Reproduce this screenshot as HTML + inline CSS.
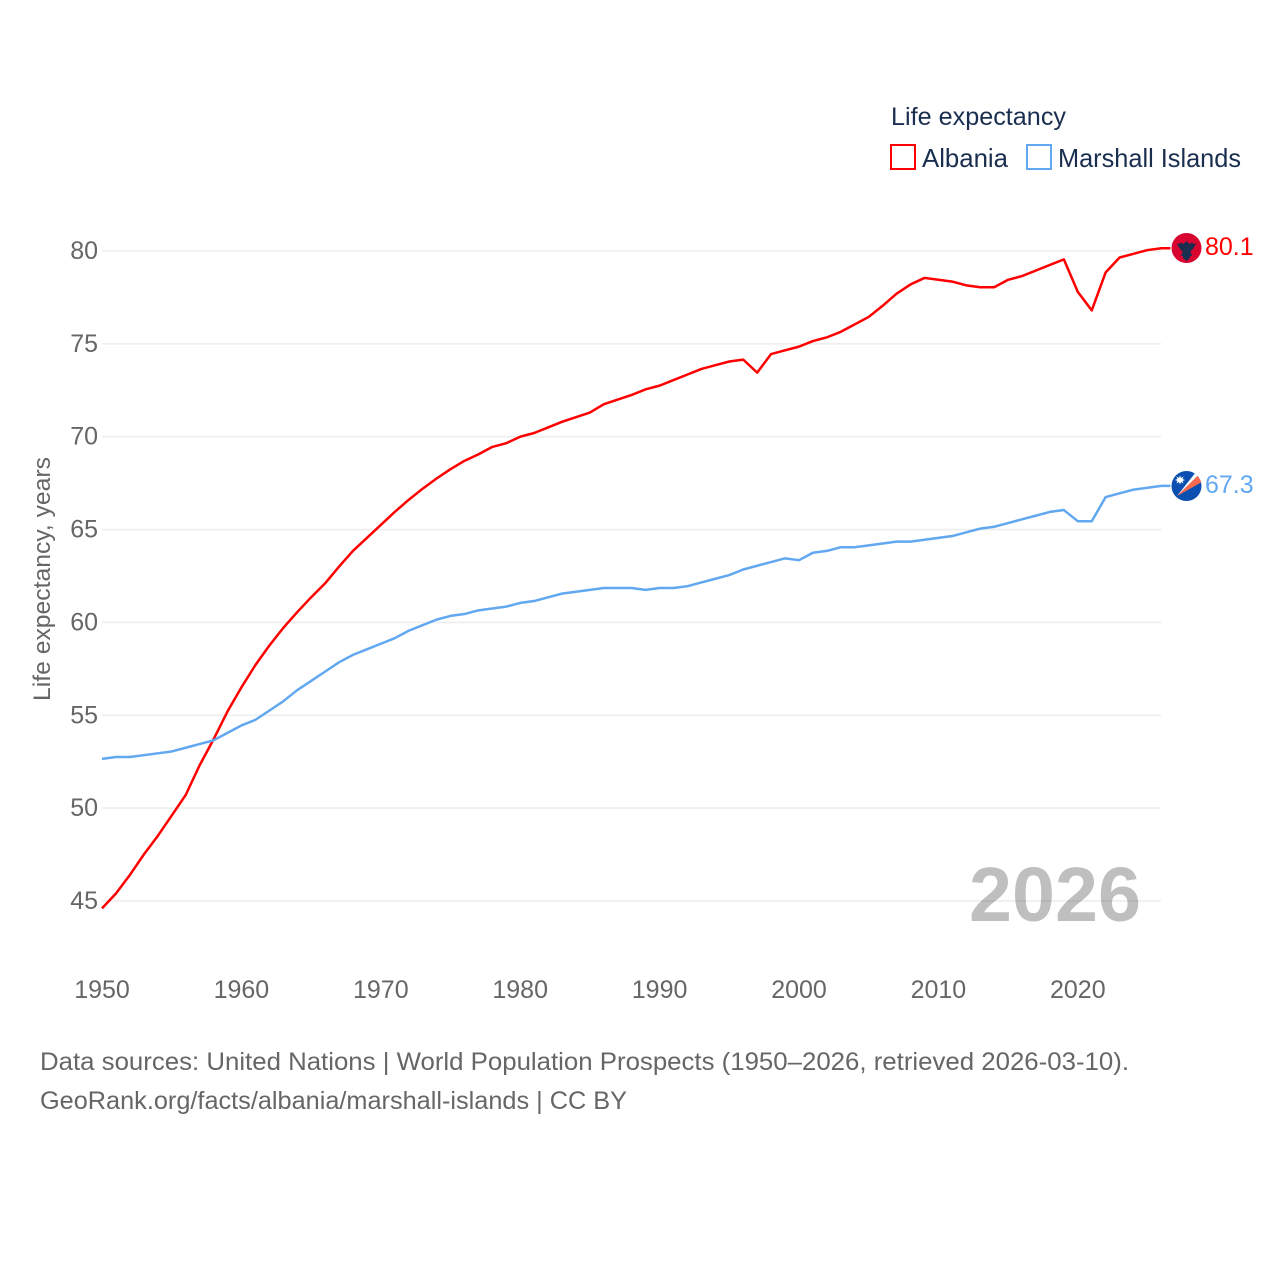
<!DOCTYPE html>
<html lang="en">
<head>
<meta charset="utf-8">
<title>Life expectancy: Albania and Marshall Islands</title>
<style>
html,body{margin:0;padding:0;background:#fff;width:1280px;height:1280px;overflow:hidden}
svg{display:block}
text{font-family:"Liberation Sans",sans-serif}
</style>
</head>
<body>
<svg id="chart" width="1280" height="1280" viewBox="0 0 1280 1280" xmlns="http://www.w3.org/2000/svg">
  <rect width="1280" height="1280" fill="#fff"/>
  <g id="grid"></g>
  <g id="yticks"></g>
  <g id="xticks"></g>
  <text transform="translate(50,701) rotate(-90)" font-size="24" fill="#666" textLength="244" lengthAdjust="spacingAndGlyphs">Life expectancy, years</text>
  <text x="969" y="921" font-size="77" font-weight="700" fill="#000" fill-opacity="0.25" textLength="172" lengthAdjust="spacingAndGlyphs">2026</text>
  <g id="series"></g>

  <g>
    <text x="891" y="125" font-size="25" fill="#1a2e4f" textLength="175" lengthAdjust="spacingAndGlyphs">Life expectancy</text>
    <g>
      <rect x="891" y="145" width="24" height="24" fill="none" stroke="#ff0000" stroke-width="2"/>
      <text x="922" y="167" font-size="26" fill="#1a2e4f" textLength="86" lengthAdjust="spacingAndGlyphs">Albania</text>
    </g>
    <g>
      <rect x="1027" y="145" width="24" height="24" fill="none" stroke="#62a8f0" stroke-width="2"/>
      <text x="1058" y="167" font-size="26" fill="#1a2e4f" textLength="183" lengthAdjust="spacingAndGlyphs">Marshall Islands</text>
    </g>
  </g>

  <g id="flag-albania">
    <circle cx="1186.5" cy="248" r="15" fill="#d80530"/>
    <polygon points="1186.5,241 1189.5,244 1191,243 1196,244 1193,249 1190,252 1191,253 1192,256 1190,256 1190,258 1186.5,261 1183,258 1183,256 1181,256 1182,253 1183,252 1180,249 1177,244 1182,243 1183.5,244" fill="#1a2e4f"/>
  </g>
  <g id="flag-marshall">
    <defs><clipPath id="mh-clip"><circle cx="1186.5" cy="486" r="15"/></clipPath></defs>
    <circle cx="1186.5" cy="486" r="15" fill="#0b50b0"/>
    <g clip-path="url(#mh-clip)">
      <polygon points="1177,496 1196,472 1198.5,475" fill="#fff"/>
      <polygon points="1177,496 1198.5,475 1202,482" fill="#f96a50"/>
    </g>
    <polygon points="1180,475.5 1181,478 1183.500,476.500 1182.500,479 1185,480 1182.500,481 1183.500,483.500 1181,482 1180,484.500 1179,482 1176.500,483.500 1177.500,481 1175,480 1177.500,479 1176.500,476.500 1179,478" fill="#fff"/>
  </g>
  <text x="1205" y="255" font-size="25" fill="#ff0000">80.1</text>
  <text x="1205" y="493" font-size="25" fill="#62a8f0">67.3</text>

  <g>
    <text x="40" y="1070" font-size="25" fill="#666" textLength="1089" lengthAdjust="spacingAndGlyphs">Data sources: United Nations | World Population Prospects (1950–2026, retrieved 2026-03-10).</text>
    <text x="40" y="1109" font-size="25" fill="#666" textLength="587" lengthAdjust="spacingAndGlyphs">GeoRank.org/facts/albania/marshall-islands | CC BY</text>
  </g>
</svg>
<script>
var startYear = 1950;
var yTickLabels = [45, 50, 55, 60, 65, 70, 75, 80];
var xTickLabels = [1950, 1960, 1970, 1980, 1990, 2000, 2010, 2020];
var albaniaValues = [44.6,45.4,46.4,47.5,48.5,49.6,50.7,52.3,53.7,55.2,56.5,57.7,58.75,59.7,60.55,61.35,62.1,63.0,63.85,64.55,65.25,65.95,66.6,67.2,67.75,68.25,68.7,69.05,69.45,69.65,70.0,70.2,70.5,70.8,71.05,71.3,71.75,72.0,72.25,72.55,72.75,73.05,73.35,73.65,73.85,74.05,74.15,73.45,74.45,74.65,74.85,75.15,75.35,75.65,76.05,76.45,77.05,77.7,78.2,78.55,78.45,78.35,78.15,78.05,78.05,78.45,78.65,78.95,79.25,79.55,77.8,76.8,78.85,79.65,79.85,80.05,80.15];
var marshallValues = [52.65,52.75,52.75,52.85,52.95,53.05,53.25,53.45,53.65,54.05,54.45,54.75,55.25,55.75,56.35,56.85,57.35,57.85,58.25,58.55,58.85,59.15,59.55,59.85,60.15,60.35,60.45,60.65,60.75,60.85,61.05,61.15,61.35,61.55,61.65,61.75,61.85,61.85,61.85,61.75,61.85,61.85,61.95,62.15,62.35,62.55,62.85,63.05,63.25,63.45,63.35,63.75,63.85,64.05,64.05,64.15,64.25,64.35,64.35,64.45,64.55,64.65,64.85,65.05,65.15,65.35,65.55,65.75,65.95,66.05,65.45,65.45,66.75,66.95,67.15,67.25,67.35];

var NS = 'http://www.w3.org/2000/svg';
function xScale(year) { return 102 + (year - 1950) * 13.94; }
function yScale(value) { return 251 + (80 - value) * 18.57; }
function make(tag, parentId) {
  var el = document.createElementNS(NS, tag);
  document.getElementById(parentId).appendChild(el);
  return el;
}
function pathFor(values) {
  var pts = values.map(function (v, i) {
    return xScale(startYear + i).toFixed(2) + ',' + yScale(v).toFixed(2);
  });
  var last = values[values.length - 1];
  pts.push((xScale(startYear + values.length - 1) + 9).toFixed(2) + ',' + yScale(last).toFixed(2));
  return 'M' + pts.join('L');
}

yTickLabels.forEach(function (v) {
  var line = make('line', 'grid');
  
  
  line.setAttribute('x1', 102);
  line.setAttribute('x2', 1161);
  line.setAttribute('y1', yScale(v));
  line.setAttribute('y2', yScale(v));
  line.setAttribute('stroke', '#eeeeee');
  line.setAttribute('stroke-width', '1.6');

  var label = make('text', 'yticks');
  
  
  label.setAttribute('x', 98);
  label.setAttribute('y', yScale(v) + 8);
  label.setAttribute('text-anchor', 'end');
  label.setAttribute('font-size', '25');
  label.setAttribute('fill', '#666');
  label.textContent = v;
});

xTickLabels.forEach(function (year) {
  var label = make('text', 'xticks');
  
  
  label.setAttribute('x', xScale(year));
  label.setAttribute('y', 998);
  label.setAttribute('text-anchor', 'middle');
  label.setAttribute('font-size', '25');
  label.setAttribute('fill', '#666');
  label.textContent = year;
});

var albaniaLine = make('path', 'series');


albaniaLine.setAttribute('d', pathFor(albaniaValues));
albaniaLine.setAttribute('fill', 'none');
albaniaLine.setAttribute('stroke', '#ff0000');
albaniaLine.setAttribute('stroke-width', '2.5');
albaniaLine.setAttribute('stroke-linejoin', 'round');

var marshallLine = make('path', 'series');


marshallLine.setAttribute('d', pathFor(marshallValues));
marshallLine.setAttribute('fill', 'none');
marshallLine.setAttribute('stroke', '#62a8f0');
marshallLine.setAttribute('stroke-width', '2.5');
marshallLine.setAttribute('stroke-linejoin', 'round');
</script>
</body>
</html>
